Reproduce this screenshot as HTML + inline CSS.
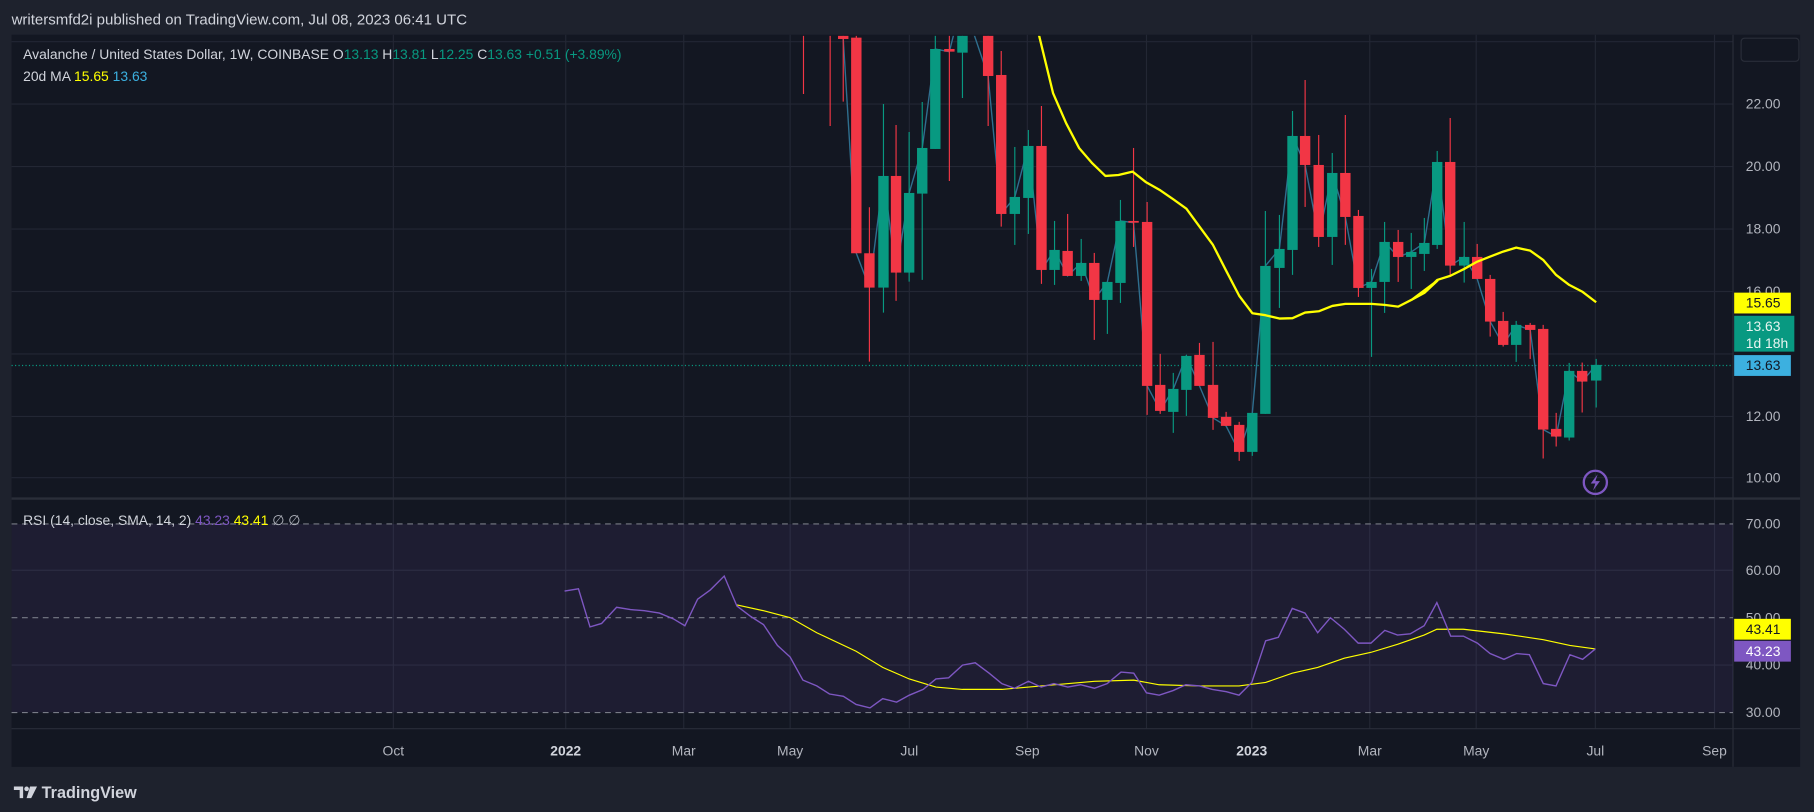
<!DOCTYPE html>
<html><head><meta charset="utf-8"><style>
html,body{margin:0;padding:0;background:#1e222d;}
svg{display:block;font-family:"Liberation Sans",sans-serif;}
</style></head><body>
<svg id="s" width="1814" height="812" viewBox="0 0 1568 702" preserveAspectRatio="none" xmlns="http://www.w3.org/2000/svg">
<rect x="0" y="0" width="1568" height="702" fill="#1e222d"/>
<text x="10" y="21" fill="#d1d4dc" font-size="13">writersmfd2i published on TradingView.com, Jul 08, 2023 06:41 UTC</text>
<rect x="10" y="30" width="1546" height="633" fill="#131722"/>
<g id="grid" stroke="#232734" stroke-width="1"></g>
<line x1="10" y1="431" x2="1556" y2="431" stroke="#2a2e39" stroke-width="2"/>
<line x1="1498" y1="30" x2="1498" y2="663" stroke="#2a2e39" stroke-width="1"/>
<line x1="10" y1="630" x2="1556" y2="630" stroke="#2a2e39" stroke-width="1"/>
<rect x="10" y="453" width="1488" height="163" fill="rgba(126,87,194,0.1)"/>
<g stroke="#787b86" stroke-width="1" stroke-dasharray="5,4">
<line x1="10" y1="453" x2="1498" y2="453"/><line x1="10" y1="534" x2="1498" y2="534"/><line x1="10" y1="616" x2="1498" y2="616"/>
</g>
<line x1="10" y1="316" x2="1498" y2="316" stroke="#089981" stroke-width="1" stroke-dasharray="1,2"/>
<clipPath id="cp"><rect x="10" y="31" width="1488" height="399"/></clipPath>
<g id="main" clip-path="url(#cp)"></g>
<g id="rsi"></g>
<g font-size="12" fill="#b2b5be">
<text x="1509" y="94">22.00</text><text x="1509" y="148">20.00</text><text x="1509" y="202">18.00</text><text x="1509" y="256">16.00</text>
<text x="1509" y="364">12.00</text><text x="1509" y="417">10.00</text>
<text x="1509" y="457">70.00</text><text x="1509" y="497">60.00</text><text x="1509" y="538">50.00</text><text x="1509" y="579">40.00</text><text x="1509" y="620">30.00</text>
</g>
<rect x="1505" y="33" width="50" height="20" rx="3" fill="#131722" stroke="#2a2e39"/>
<rect x="1499" y="253" width="49" height="18" fill="#ffff00"/><text x="1509" y="266" font-size="12" fill="#131722">15.65</text>
<rect x="1499" y="273" width="52" height="31" fill="#089981"/><text x="1509" y="286" font-size="12" fill="#e8f5f1">13.63</text><text x="1509" y="301" font-size="12" fill="#e8f5f1">1d 18h</text>
<rect x="1499" y="307" width="49" height="18" fill="#3cb0e0"/><text x="1509" y="320" font-size="12" fill="#131722">13.63</text>
<rect x="1499" y="535" width="49" height="18" fill="#ffff00"/><text x="1509" y="548" font-size="12" fill="#131722">43.41</text>
<rect x="1499" y="554" width="49" height="18" fill="#7e57c2"/><text x="1509" y="567" font-size="12" fill="#ffffff">43.23</text>
<g font-size="12" fill="#b2b5be" text-anchor="middle">
<text x="340" y="653">Oct</text><text x="489" y="653" font-weight="bold" fill="#d1d4dc">2022</text><text x="591" y="653">Mar</text><text x="683" y="653">May</text><text x="786" y="653">Jul</text><text x="888" y="653">Sep</text><text x="991" y="653">Nov</text><text x="1082" y="653" font-weight="bold" fill="#d1d4dc">2023</text><text x="1184" y="653">Mar</text><text x="1276" y="653">May</text><text x="1379" y="653">Jul</text><text x="1482" y="653">Sep</text>
</g>
<text x="20" y="51" font-size="12" fill="#d1d4dc">Avalanche / United States Dollar, 1W, COINBASE <tspan fill="#d1d4dc">O</tspan><tspan fill="#089981">13.13</tspan> H<tspan fill="#089981">13.81</tspan> L<tspan fill="#089981">12.25</tspan> C<tspan fill="#089981">13.63</tspan> <tspan fill="#089981">+0.51 (+3.89%)</tspan></text>
<text x="20" y="70" font-size="12" fill="#d1d4dc">20d MA <tspan fill="#ffff00">15.65</tspan> <tspan fill="#3cb0e0">13.63</tspan></text>
<text x="20" y="454" font-size="12" fill="#d1d4dc">RSI (14, close, SMA, 14, 2) <tspan fill="#7e57c2">43.23</tspan> <tspan fill="#ffff00">43.41</tspan> <tspan fill="#b2b5be">∅</tspan>  <tspan fill="#b2b5be">∅</tspan></text>
<circle cx="1379" cy="417" r="10" fill="none" stroke="#7e57c2" stroke-width="2"/>
<path d="M1381 410 L1375 418 L1379 418 L1377 424 L1383 416 L1379 416 Z" fill="#7e57c2"/>
<g transform="translate(12,678)"><path d="M0 2 H8 V12 H5 V5 H0 Z" fill="#d1d4dc"/><circle cx="11" cy="4" r="2" fill="#d1d4dc"/><path d="M14 2 H20 L15 12 H11 Z" fill="#d1d4dc"/></g>
<text x="36" y="690" font-size="14" fill="#d1d4dc" font-weight="bold">TradingView</text>
</svg>
<script>
var NS="http://www.w3.org/2000/svg";
function el(p,t,a){var e=document.createElementNS(NS,t);for(var k in a)e.setAttribute(k,a[k]);p.appendChild(e);return e;}
var g=document.getElementById('grid');
[36,90,144,198,252,306,360,413].forEach(function(y){el(g,'line',{x1:10,y1:y,x2:1498,y2:y});});
[493,575].forEach(function(y){el(g,'line',{x1:10,y1:y,x2:1498,y2:y});});
[340,489,591,683,786,888,991,1082,1184,1276,1379,1482].forEach(function(x){el(g,'line',{x1:x,y1:30,x2:x,y2:630});});
var z1=[[255,'r',0,0,0,282],[310,'r',0,0,0,378],[337,'r',100,117,0,305],[364,'r',113,760,0,760],[391,'r',760,863,622,1085],[420,'g',528,863,312,938],[446,'r',528,818,375,903],[473,'g',579,818,396,845],[500,'g',444,581,306,840],[527,'g',147,447,0,447],[556,'r',147,155,0,543],[583,'g',0,158,0,294],[636,'r',0,228,0,378],[663,'r',225,642,153,680],[691,'g',591,642,441,735],[719,'g',438,594,390,702],[746,'r',438,810,318,852],[773,'g',750,810,663,855],[800,'r',753,828,642,828],[828,'g',789,828,717,843],[855,'r',789,900,759,1020],[882,'g',846,900,846,1002],[909,'g',663,849,600,909],[936,'r',663,668,444,741],[964,'r',666,1158,606,1245],[991,'r',1155,1233,1062,1242],[1018,'g',1167,1236,1119,1299],[1045,'g',1068,1170,1065,1248],[1072,'r',1065,1158,1029,1158],[1100,'r',1155,1254,1026,1290],[1127,'r',1251,1278,1236,1278],[1154,'r',1275,1356,1266,1383],[1181,'g',1239,1356,1239,1368],[1208,'g',798,1242,633,1242],[1237,'g',747,804,645,924],[1264,'g',408,750,333,825],[1290,'r',408,495,240,621],[1318,'r',495,711,405,741],[1346,'g',519,711,459,795],[1373,'r',519,651,345,735],[1400,'r',648,864,630,891],[1427,'g',846,864,807,1071],[1454,'g',726,846,666,939],[1482,'r',726,771,690,846],[1509,'g',756,771,699,867],[1536,'g',729,762,654,813]];
var z2=[[112,'g',426,675,393,687],[151,'r',426,737,294,767],[193,'g',711,737,606,788],[232,'r',711,777,672,777],[271,'r',777,905,765,950],[310,'r',903,975,876,980],[349,'g',915,975,903,1026],[391,'r',915,930,909,1017],[430,'r',927,1229,915,1316],[469,'r',1227,1250,1179,1280],[508,'g',1053,1253,1029,1262],[547,'r',1053,1085,1028,1178],[589,'g',1035,1082,1017,1163]];
var C=[];
z1.forEach(function(c){C.push({x:c[0]/2.387+587.7,c:c[1],bt:c[2]/3.471,bb:c[3]/3.471,wt:c[4]/3.471,wb:c[5]/3.471});});
z2.forEach(function(c){var f=function(v){return (20+v/3)/1.157;};C.push({x:(1400+c[0]/3)/1.157,c:c[1],bt:f(c[2]),bb:f(c[3]),wt:f(c[4]),wb:f(c[5])});});
var m=document.getElementById('main');
var pts=[];
C.forEach(function(k){var close=k.c=='g'?k.bt:k.bb; if(k.bb>0)pts.push(k.x.toFixed(1)+','+close.toFixed(1));});
el(m,'polyline',{points:pts.join(' '),fill:'none',stroke:'#2f6f8f','stroke-width':1.2});
C.forEach(function(k){var col=k.c=='g'?'#089981':'#f23645';
el(m,'line',{x1:k.x,y1:Math.max(k.wt,25),x2:k.x,y2:k.wb,stroke:col,'stroke-width':1});
if(k.bb>0){var h=Math.max(k.bb-k.bt,1.5);el(m,'rect',{x:k.x-4.5,y:k.bt,width:9,height:h,fill:col});}});
var ma1=[[740,100],[770,280],[797,370],[824,445],[851,490],[878,528],[905,525],[934,515],[961,546],[991,571],[1018,598],[1045,626],[1072,680],[1100,735],[1127,812],[1154,888],[1181,940],[1208,946],[1237,956],[1264,955],[1290,938],[1318,934],[1346,918],[1373,912],[1400,912],[1427,912],[1454,915],[1482,920],[1509,900],[1536,879],[1563,842]];
var ma2=[[35,840],[73,818],[112,780],[151,768],[193,747],[232,725],[271,710],[310,695],[349,683],[391,692],[430,720],[469,765],[508,795],[547,815],[589,847]];
var mp=[[893,20]];
ma1.forEach(function(p){mp.push([p[0]/2.387+587.7,p[1]/3.471]);});
ma2.forEach(function(p){mp.push([(1400+p[0]/3)/1.157,(20+p[1]/3)/1.157]);});
el(m,'polyline',{points:mp.map(function(p){return p[0].toFixed(1)+','+p[1].toFixed(1)}).join(' '),fill:'none',stroke:'#ffff00','stroke-width':2,'stroke-linejoin':'round'});
var r=document.getElementById('rsi');
var rs=[[488,511],[500,509],[510,542],[520,539],[533,525],[545,527],[557,528],[570,530],[582,535],[592,541],[603,518],[614,510],[626,498],[637,524],[649,533],[660,540],[672,558],[683,568],[694,588],[706,593],[717,600],[729,602],[740,609],[752,612],[763,604],[775,607],[786,601],[798,596],[809,587],[820,586],[832,575],[843,573],[855,582],[866,591],[877,595],[889,589],[900,594],[911,591],[923,594],[934,592],[946,595],[957,591],[969,581],[980,582],[991,599],[1002,601],[1014,597],[1025,592],[1037,593],[1048,596],[1060,598],[1071,601],[1082,590],[1094,554],[1105,551],[1117,526],[1128,530],[1139,547],[1150,534],[1162,544],[1174,556],[1185,556],[1197,545],[1208,549],[1219,548],[1231,541],[1242,521],[1254,550],[1265,550],[1277,556],[1288,565],[1300,570],[1311,565],[1322,566],[1334,591],[1345,593],[1357,566],[1368,570],[1379,561]];
var rm=[[637,523],[660,528],[683,534],[706,547],[740,563],[763,577],[786,587],[809,594],[832,596],[866,596],[900,593],[946,589],[980,588],[1002,592],[1037,593],[1071,593],[1094,590],[1117,582],[1139,577],[1162,569],[1185,564],[1208,557],[1231,549],[1242,544],[1265,544],[1300,548],[1334,553],[1357,558],[1379,561]];
el(r,'polyline',{points:rm.join(' '),fill:'none',stroke:'#ffff00','stroke-width':1});
el(r,'polyline',{points:rs.join(' '),fill:'none',stroke:'#7e57c2','stroke-width':1.2});
</script>
</body></html>
